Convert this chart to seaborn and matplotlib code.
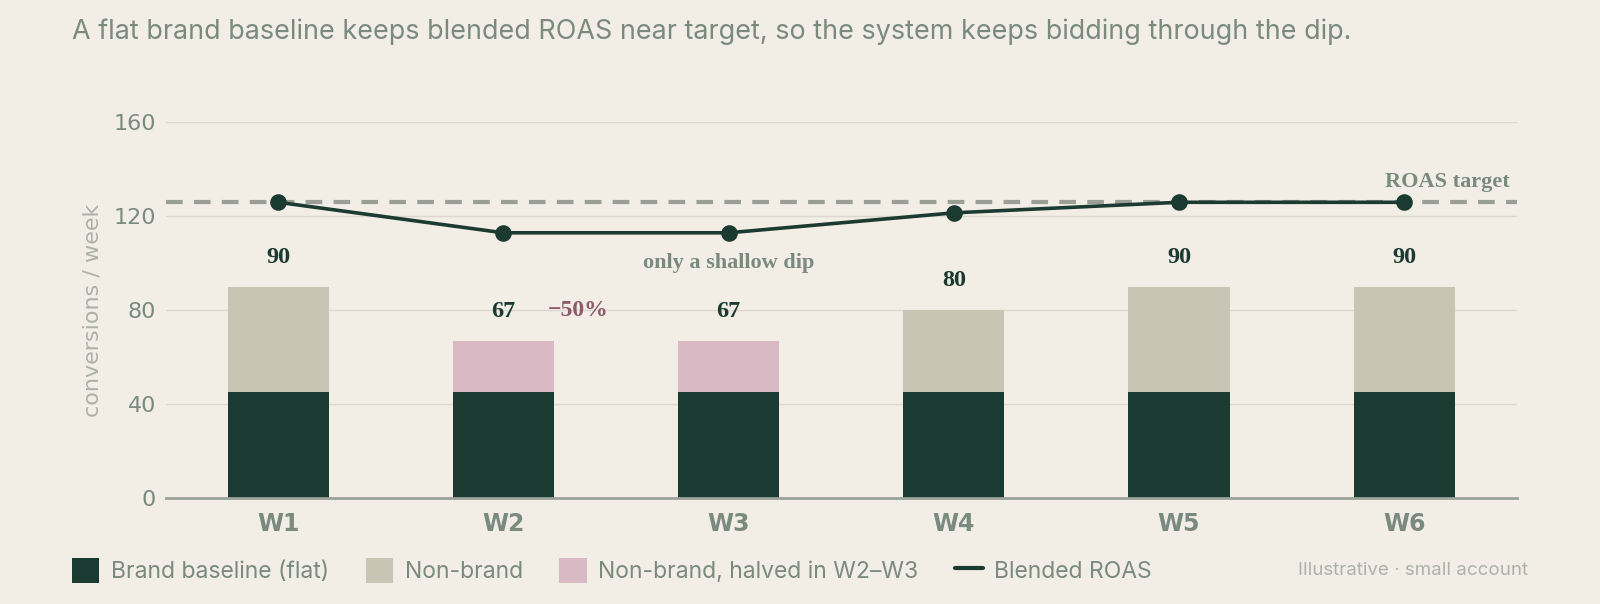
import numpy as np
import pandas as pd
import matplotlib
matplotlib.use("Agg")
import matplotlib.pyplot as plt
from matplotlib.patches import Patch
from matplotlib.lines import Line2D
import seaborn as sns

# chart data
weeks = ["W1", "W2", "W3", "W4", "W5", "W6"]
brand = [45, 45, 45, 45, 45, 45]
nonbrand = [45, 22, 22, 35, 45, 45]
halved = [False, True, True, False, False, False]
roas = [126, 113, 113, 121.5, 126, 126]   # plotted on the conversions scale
roas_target = 126
total_labels = ["90", "67", "67", "80", "90", "90"]

# colours
bg = "#f2eee6"
dark = "#1b3a32"
nb_col = "#c8c5b5"
pink = "#d9b9c3"
grey_txt = "#7a8a7e"
light_txt = "#aeb1a9"
grid_col = "#dcd8cf"
target_col = "#9a9e95"
mauve = "#8e5a6b"

sns.set_theme(style="white")
plt.rcParams["font.family"] = ["DejaVu Sans"]

df = pd.DataFrame({"week": weeks, "brand": brand, "nonbrand": nonbrand, "halved": halved})
df["total"] = df["brand"] + df["nonbrand"]

fig = plt.figure(figsize=(16, 6.04), dpi=100, facecolor=bg)
ax = fig.add_axes([0.1035, 0.1755, 0.8445, 0.6217])
ax.set_facecolor(bg)

# grid first
for v in [40, 80, 120, 160]:
    ax.axhline(v, color=grid_col, lw=1, zorder=0)

# totals drawn first, brand drawn on top -> stacked look
top_colors = [pink if h else nb_col for h in df["halved"]]
sns.barplot(data=df, x="week", y="total", hue="week", palette=top_colors,
            width=0.45, legend=False, ax=ax, saturation=1, zorder=2,
            linewidth=0, edgecolor="none")
sns.barplot(data=df, x="week", y="brand", color=dark, width=0.45,
            ax=ax, saturation=1, zorder=3, linewidth=0, edgecolor="none")

# target line
ax.axhline(roas_target, color=target_col, lw=3, ls=(0, (4, 2.7)), zorder=4)

# blended ROAS line
sns.pointplot(x=weeks, y=roas, color=dark, markersize=10, linewidth=2.6,
              ax=ax, zorder=5)

ax.set_xlim(-0.5, 5.5)
ax.set_ylim(0, 160)
ax.set_yticks([0, 40, 80, 120, 160])
ax.tick_params(axis="y", length=0, pad=7, labelsize=16, labelcolor=grey_txt)
ax.tick_params(axis="x", length=0, pad=10, labelsize=17, labelcolor=grey_txt)
for lab in ax.get_xticklabels():
    lab.set_fontweight("bold")
ax.set_xlabel("")
ax.set_ylabel("conversions / week", color=light_txt, fontsize=16, labelpad=8)
for s in ["top", "right", "left"]:
    ax.spines[s].set_visible(False)
ax.spines["bottom"].set_color("#9aa398")
ax.spines["bottom"].set_linewidth(2)
ax.spines["bottom"].set_zorder(6)

# value labels above bars
for i, (t, lab) in enumerate(zip(df["total"], total_labels)):
    ax.text(i, t + 12.5, lab, ha="center", va="center", fontsize=17.5,
            fontweight="bold", family="Liberation Serif", color=dark)

ax.text(1.33, 80, "\u221250%", ha="center", va="center", fontsize=17,
        fontweight="bold", family="Liberation Serif", color=mauve)
ax.text(2.0, 100, "only a shallow dip", ha="center", va="center", fontsize=16,
        fontweight="bold", family="Liberation Serif", color=grey_txt)
ax.text(5.47, 134.8, "ROAS target", ha="right", va="center", fontsize=16,
        fontweight="bold", family="Liberation Serif", color=grey_txt)

# title
fig.text(0.045, 0.947, "A flat brand baseline keeps blended ROAS near target, so the system keeps bidding through the dip.",
         ha="left", va="center", fontsize=19.4, family="Inter", color=grey_txt)

# legend
handles = [
    Patch(facecolor=dark, edgecolor="none", label="Brand baseline (flat)"),
    Patch(facecolor=nb_col, edgecolor="none", label="Non-brand"),
    Patch(facecolor=pink, edgecolor="none", label="Non-brand, halved in W2\u2013W3"),
    Line2D([0], [0], color=dark, lw=3, label="Blended ROAS"),
]
leg = fig.legend(handles=handles, loc="center left", bbox_to_anchor=(0.032, 0.056),
                 ncol=4, frameon=False, handlelength=1.2, handleheight=1.3,
                 handletextpad=0.5, columnspacing=1.6,
                 prop={"family": "Inter", "size": 16.5})
for t in leg.get_texts():
    t.set_color(grey_txt)

fig.text(0.955, 0.056, "Illustrative \u00b7 small account", ha="right", va="center",
         fontsize=13.5, family="Inter", color=light_txt)

fig.savefig("out.png", dpi=100, facecolor=bg)
